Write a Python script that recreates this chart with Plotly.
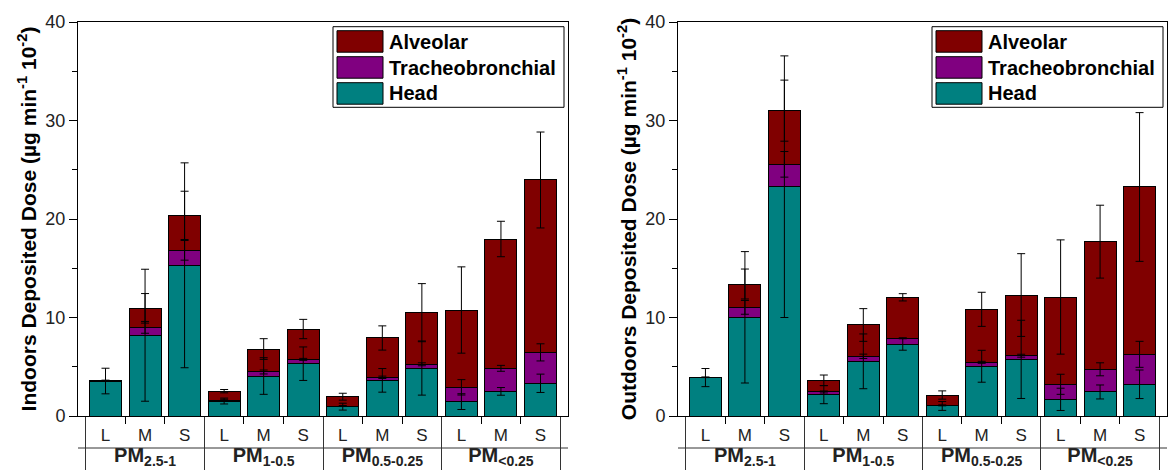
import plotly.graph_objects as go

# ---------------- data ----------------
groups = ["PM<sub>2.5-1</sub>", "PM<sub>1-0.5</sub>", "PM<sub>0.5-0.25</sub>", "PM<sub>&lt;0.25</sub>"]
sizes = ["L", "M", "S"]

indoor_head = [3.55, 8.20, 15.30, 1.52, 4.06, 5.31, 0.95, 3.62, 4.87, 1.46, 2.50, 3.32]
indoor_tb = [0.04, 0.80, 1.52, 0.08, 0.41, 0.44, 0.06, 0.31, 0.38, 1.45, 2.34, 3.14]
indoor_alv = [0.03, 1.93, 3.55, 0.92, 2.33, 3.08, 0.95, 3.99, 5.24, 7.85, 13.13, 17.50]
indoor_head_err = [1.30, 6.70, 10.40, 0.30, 1.86, 1.70, 0.35, 1.20, 2.75, 0.80, 0.39, 0.93]
indoor_tb_err = [0.02, 0.60, 1.00, 0.10, 0.20, 0.10, 0.05, 0.12, 0.15, 0.78, 0.30, 0.87]
indoor_alv_err = [0.01, 1.50, 2.45, 0.17, 1.05, 0.98, 0.35, 1.23, 2.95, 4.38, 1.80, 4.87]

outdoor_head = [3.90, 10.02, 23.28, 2.17, 5.55, 7.28, 1.02, 5.05, 5.75, 1.69, 2.44, 3.22]
outdoor_tb = [0.02, 1.01, 2.27, 0.27, 0.51, 0.61, 0.06, 0.40, 0.37, 1.53, 2.30, 3.04]
outdoor_alv = [0.01, 2.37, 5.45, 1.18, 3.18, 4.16, 1.05, 5.38, 6.16, 8.86, 12.96, 16.99]
outdoor_head_err = [0.92, 6.67, 13.28, 0.92, 2.78, 0.60, 0.45, 1.62, 3.97, 1.13, 0.71, 1.45]
outdoor_tb_err = [0.02, 0.70, 1.30, 0.10, 0.22, 0.05, 0.05, 0.10, 0.15, 1.02, 0.66, 1.32]
outdoor_alv_err = [0.01, 1.52, 3.10, 0.54, 1.66, 0.37, 0.42, 1.73, 4.20, 5.80, 3.70, 7.55]

layer_names = ["Head", "Tracheobronchial", "Alveolar"]
layer_colors = ["#008080", "#800080", "#800000"]

y_titles = ["<b>Indoors Deposited Dose (µg min<sup>-1</sup> 10<sup>-2</sup>)</b>",
            "<b>Outdoors Deposited Dose (µg min<sup>-1</sup> 10<sup>-2</sup>)</b>"]

# ---------------- figure ----------------
W, H = 1168, 471
M_T, M_B = 22, 55
PLOT_H = H - M_T - M_B
panels_px = [(78, 568), (678, 1167)]

group_labels = ["<b>%s</b>" % g for g in groups]
size_labels = ['<span style="font-size:17px">%s</span>' % s for s in sizes]
x_cat = [[g for g in group_labels for _ in sizes], [s for _ in groups for s in size_labels]]

fig = go.Figure()
datasets = [
    ([indoor_head, indoor_tb, indoor_alv], [indoor_head_err, indoor_tb_err, indoor_alv_err]),
    ([outdoor_head, outdoor_tb, outdoor_alv], [outdoor_head_err, outdoor_tb_err, outdoor_alv_err]),
]

for p, (layers, errs) in enumerate(datasets):
    xa = "x" if p == 0 else "x2"
    ya = "y" if p == 0 else "y2"
    for vals, name, col in zip(layers, layer_names, layer_colors):
        fig.add_trace(go.Bar(x=x_cat, y=vals, name=name, xaxis=xa, yaxis=ya,
                             marker=dict(color=col, line=dict(color="black", width=1)),
                             showlegend=False))
    # error bars at the cumulative top of each segment (drawn above all bars)
    cum = [0.0] * len(layers[0])
    for vals, err in zip(layers, errs):
        cum = [c + v for c, v in zip(cum, vals)]
        fig.add_trace(go.Scatter(x=x_cat, y=cum, mode="markers", xaxis=xa, yaxis=ya,
                                 marker=dict(size=1, color="rgba(0,0,0,0)"),
                                 error_y=dict(type="data", array=err, color="black",
                                              thickness=1, width=4),
                                 showlegend=False, hoverinfo="skip"))

font_family = "Liberation Sans, Arial, sans-serif"

xcommon = dict(type="multicategory", showline=True, linecolor="black", linewidth=1,
               mirror=True, ticks="outside", ticklen=7, tickcolor="black",
               tickfont=dict(size=20, color="#222222", family=font_family),
               showdividers=True, dividercolor="#333333", dividerwidth=1,
               showgrid=False, zeroline=False)
ycommon = dict(range=[0, 40], dtick=10, showline=True, linecolor="black", linewidth=1,
               mirror=True, ticks="outside", ticklen=8, tickcolor="black",
               minor=dict(dtick=5, ticks="outside", ticklen=5, tickcolor="black"),
               tickfont=dict(size=18, color="#222222", family=font_family),
               showgrid=False, zeroline=False)

layout_axes = {}
for p, (x0, x1) in enumerate(panels_px):
    sx = "" if p == 0 else "2"
    layout_axes["xaxis" + sx] = dict(xcommon, domain=[x0 / W, x1 / W], anchor="y" + sx)
    layout_axes["yaxis" + sx] = dict(ycommon, anchor="x" + sx,
                                     title=dict(text=y_titles[p], standoff=3,
                                                font=dict(size=21, color="black", family=font_family)))

fig.update_layout(width=W, height=H, margin=dict(l=0, r=0, t=M_T, b=M_B),
                  barmode="stack", bargap=0.19, plot_bgcolor="white", paper_bgcolor="white",
                  showlegend=False, font=dict(family=font_family, color="black"),
                  **layout_axes)

# ---------------- separator line & manual legend ----------------
shapes, annos = [], []
for p, (x0, x1) in enumerate(panels_px):
    sx = "" if p == 0 else "2"
    pw = x1 - x0
    fx = lambda px: px / pw
    fy = lambda py: (PLOT_H - py) / PLOT_H
    # horizontal separator between the two label rows
    sep = (H - M_B - 448) / PLOT_H
    shapes.append(dict(type="line", xref="x%s domain" % sx, yref="paper",
                       x0=0, x1=1, y0=sep, y1=sep, line=dict(color="#333333", width=1)))
    # legend box
    shapes.append(dict(type="rect", xref="x%s domain" % sx, yref="y%s domain" % sx,
                       x0=fx(pw - 235), x1=fx(pw - 4), y0=fy(4.7), y1=fy(85.3),
                       line=dict(color="black", width=1), fillcolor="white"))
    rows = [("Alveolar", "#800000", 8.7), ("Tracheobronchial", "#800080", 34.7), ("Head", "#008080", 60.7)]
    for label, col, top in rows:
        shapes.append(dict(type="rect", xref="x%s domain" % sx, yref="y%s domain" % sx,
                           x0=fx(pw - 231), x1=fx(pw - 185), y0=fy(top), y1=fy(top + 21.5),
                           line=dict(color="black", width=1), fillcolor=col))
        annos.append(dict(xref="x%s domain" % sx, yref="y%s domain" % sx,
                          x=fx(pw - 181), y=fy(top + 10.8), xanchor="left", yanchor="middle",
                          text="<b>%s</b>" % label, showarrow=False,
                          font=dict(size=20, color="black", family=font_family)))

fig.update_layout(shapes=shapes, annotations=annos)
fig.write_html("out.html", config={"displayModeBar": False},
               post_script="document.body.style.margin='0px';")
